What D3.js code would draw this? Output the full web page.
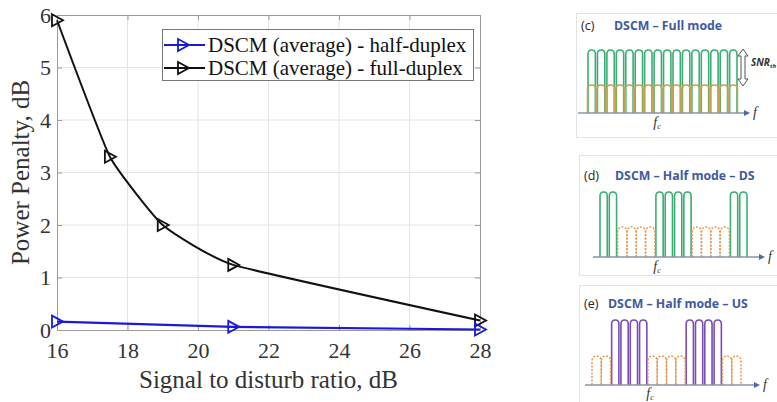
<!DOCTYPE html>
<html><head><meta charset="utf-8">
<script src="https://cdn.jsdelivr.net/npm/d3@7"></script>
<style>
html,body{margin:0;padding:0;background:#fff;}
svg{display:block;}
</style></head>
<body>
<svg id="c" width="777" height="402"></svg>
<script>
// ---------- data ----------
const xTicks = [16, 18, 20, 22, 24, 26, 28];
const yTicks = [0, 1, 2, 3, 4, 5, 6];
const fullX = [16, 17.5, 19, 21, 28];
const fullDuplex = [5.9, 3.3, 2.0, 1.24, 0.18];
const halfX = [16, 21, 28];
const halfDuplex = [0.16, 0.06, 0.01];
const seriesNames = ["DSCM (average) - half-duplex", "DSCM (average) - full-duplex"];
const xLabel = "Signal to disturb ratio, dB";
const yLabel = "Power Penalty, dB";
// spectrum panels: B = both (full), G = green DS, O = orange, P = purple US
const panelTags = ["(c)", "(d)", "(e)"];
const panelTitles = ["DSCM – Full mode", "DSCM – Half mode – DS", "DSCM – Half mode – US"];
const panelSlots = [
  ["B","B","B","B","B","B","B","B","B","B","B","B","B","B","B","B"],
  ["G","G","O","O","O","O","G","G","G","G","O","O","O","O","G","G"],
  ["O","O","P","P","P","P","O","O","O","O","P","P","P","P","O","O"]
];

const svg = d3.select("#c");
const serif = "'Liberation Serif','Times New Roman',serif";
const sans = "'Open Sans','Noto Sans',sans-serif";

// ---------- main chart ----------
const L = 57, R = 480, T = 15, B = 330;
const x = d3.scaleLinear().domain([16, 28]).range([L, R]);
const y = d3.scaleLinear().domain([0, 6]).range([B, T]);

const g = svg.append("g");
// grid
g.append("g").selectAll("line").data(xTicks.slice(1, -1)).join("line")
  .attr("x1", d => x(d)).attr("x2", d => x(d)).attr("y1", T).attr("y2", B)
  .attr("stroke", "#e4e4e4").attr("stroke-width", 1);
g.append("g").selectAll("line").data(yTicks.slice(1, -1)).join("line")
  .attr("y1", d => y(d)).attr("y2", d => y(d)).attr("x1", L).attr("x2", R)
  .attr("stroke", "#e4e4e4").attr("stroke-width", 1);

function styleAxis(sel) {
  sel.select(".domain").attr("stroke", "#9a9a9a");
  sel.selectAll(".tick line").attr("stroke", "#9a9a9a");
  sel.selectAll(".tick text").attr("fill", "#333").style("font-family", serif).style("font-size", "22px");
}
const fmt = d3.format("d");
g.append("g").attr("transform", `translate(0,${B})`)
  .call(d3.axisBottom(x).tickValues(xTicks).tickFormat(fmt).tickSize(-5).tickPadding(12).tickSizeOuter(0))
  .call(styleAxis);
g.append("g").attr("transform", `translate(${L},0)`)
  .call(d3.axisLeft(y).tickValues(yTicks).tickFormat(fmt).tickSize(-5).tickPadding(6).tickSizeOuter(0))
  .call(styleAxis);
g.append("g").attr("transform", `translate(0,${T})`)
  .call(d3.axisTop(x).tickValues(xTicks).tickSize(-5).tickSizeOuter(0).tickFormat(""))
  .call(styleAxis);
g.append("g").attr("transform", `translate(${R},0)`)
  .call(d3.axisRight(y).tickValues(yTicks).tickSize(-5).tickSizeOuter(0).tickFormat(""))
  .call(styleAxis);

// labels
g.append("text").attr("x", (L + R) / 2).attr("y", 388).attr("text-anchor", "middle")
  .style("font-family", serif).style("font-size", "25px").attr("fill", "#333").text(xLabel);
g.append("text").attr("transform", `translate(29,${(T + B) / 2}) rotate(-90)`).attr("text-anchor", "middle")
  .style("font-family", serif).style("font-size", "25px").attr("fill", "#333").text(yLabel);

// lines
const tri = "M-5,-6L6,0L-5,6Z";
const fullData = fullX.map((v, i) => [v, fullDuplex[i]]);
const halfData = halfX.map((v, i) => [v, halfDuplex[i]]);
g.append("path").datum(fullData)
  .attr("d", d3.line().x(d => x(d[0])).y(d => y(d[1])).curve(d3.curveCardinal.tension(0.6)))
  .attr("fill", "none").attr("stroke", "#111").attr("stroke-width", 2);
g.append("path").datum(halfData)
  .attr("d", d3.line().x(d => x(d[0])).y(d => y(d[1])))
  .attr("fill", "none").attr("stroke", "#1a1ad6").attr("stroke-width", 2.2);
g.append("g").selectAll("path").data(fullData).join("path")
  .attr("transform", d => `translate(${x(d[0])},${y(d[1])})`).attr("d", tri)
  .attr("fill", "none").attr("stroke", "#111").attr("stroke-width", 1.8);
g.append("g").selectAll("path").data(halfData).join("path")
  .attr("transform", d => `translate(${x(d[0])},${y(d[1])})`).attr("d", tri)
  .attr("fill", "none").attr("stroke", "#1a1ad6").attr("stroke-width", 1.8);

// legend
const lg = g.append("g");
lg.append("rect").attr("x", 162.5).attr("y", 29.5).attr("width", 311).attr("height", 51)
  .attr("fill", "#fff").attr("stroke", "#777").attr("stroke-width", 1);
const legCols = ["#1a1ad6", "#111"];
seriesNames.forEach((name, i) => {
  const yy = 45 + i * 23;
  lg.append("line").attr("x1", 164).attr("x2", 205).attr("y1", yy).attr("y2", yy)
    .attr("stroke", legCols[i]).attr("stroke-width", 2);
  lg.append("path").attr("transform", `translate(183,${yy})`).attr("d", tri)
    .attr("fill", "none").attr("stroke", legCols[i]).attr("stroke-width", 1.8);
  lg.append("text").attr("x", 208).attr("y", yy + 7).style("font-family", serif)
    .style("font-size", "21px").attr("fill", "#111").text(name);
});

// ---------- spectrum panels ----------
const panels = [
  {bx: 576, by: 13, bh: 124, tagY: 30, titleX: 614, s0: 588, s1: 737, top: 50, mid: 85, base: 113,
   ax0: 578, ax1: 750, fcX: 657, fcY: 127},
  {bx: 579, by: 155, bh: 120, tagY: 180, titleX: 615, s0: 600, s1: 747, top: 192, mid: 227, base: 257,
   ax0: 593, ax1: 765, fcX: 657, fcY: 271},
  {bx: 579, by: 285, bh: 130, tagY: 308, titleX: 608, s0: 593, s1: 740, top: 320, mid: 356, base: 385,
   ax0: 585, ax1: 760, fcX: 650, fcY: 398}
];
const colG = "#3aae74", colP = "#7a4cb8", colO = "#e59a55", colOc = "#c9a24e";

function arch(x0, x1, top, base) {
  const r = (x1 - x0) * 0.55;
  return `M${x0},${base}L${x0},${top + r}C${x0},${top - r / 3} ${x1},${top - r / 3} ${x1},${top + r}L${x1},${base}`;
}

panels.forEach((p, k) => {
  const pg = svg.append("g");
  pg.append("rect").attr("x", p.bx + 0.5).attr("y", p.by + 0.5).attr("width", 777 - p.bx + 10).attr("height", p.bh)
    .attr("fill", "#fff").attr("stroke", "#e2e2e2");
  pg.append("text").attr("x", p.bx + 5).attr("y", p.tagY).style("font-family", sans).style("font-size", "12.5px")
    .attr("fill", "#222").text(panelTags[k]);
  pg.append("text").attr("x", p.titleX).attr("y", p.tagY).style("font-family", sans).style("font-size", "12.3px")
    .style("font-weight", "bold").attr("fill", "#3d5aa0").text(panelTitles[k]);

  const slots = panelSlots[k];
  const band = d3.scaleBand().domain(d3.range(slots.length)).range([p.s0, p.s1]).paddingInner(0.22);
  const big = slots.map((s, i) => ({s, i})).filter(d => d.s !== "O");
  const small = slots.map((s, i) => ({s, i})).filter(d => d.s === "O" || d.s === "B");
  pg.append("g").selectAll("path").data(big).join("path")
    .attr("d", d => arch(band(d.i), band(d.i) + band.bandwidth(), p.top, p.base))
    .attr("fill", "none").attr("stroke", d => d.s === "P" ? colP : colG).attr("stroke-width", 1.6);
  pg.append("g").selectAll("path").data(small).join("path")
    .attr("d", d => d.s === "B"
      ? arch(band(d.i) - 0.5, band(d.i) + band.bandwidth() + 0.5, p.mid, p.base)
      : arch(band(d.i) - 1, band(d.i) + band.bandwidth() + 1, p.mid, p.base))
    .attr("fill", "none").attr("stroke", d => d.s === "B" ? colOc : colO)
    .attr("stroke-width", 1.5).attr("stroke-dasharray", d => d.s === "B" ? null : "2,1.5");

  // frequency axis
  pg.append("line").attr("x1", p.ax0).attr("x2", p.ax1 - 4).attr("y1", p.base).attr("y2", p.base)
    .attr("stroke", "#8a94a6").attr("stroke-width", 1.5);
  pg.append("path").attr("d", `M${p.ax1},${p.base}L${p.ax1 - 6},${p.base - 3}L${p.ax1 - 6},${p.base + 3}Z`)
    .attr("fill", "#4a6aa8");
  pg.append("text").attr("x", p.ax1 + 3).attr("y", p.base + 4).style("font-family", serif)
    .style("font-style", "italic").style("font-size", "14px").attr("fill", "#333").text("f");
  const fc = pg.append("text").attr("x", p.fcX).attr("y", p.fcY).attr("text-anchor", "middle")
    .style("font-family", serif).style("font-style", "italic").style("font-size", "14px").attr("fill", "#333");
  fc.append("tspan").text("f");
  fc.append("tspan").attr("dy", 2).style("font-size", "8px").text("c");

  if (k === 0) {
    // SNR double arrow
    const ax = 743, y0 = p.top - 1, y1 = p.mid + 1;
    pg.append("path")
      .attr("d", `M${ax},${y0}L${ax + 5},${y0 + 7}L${ax + 2},${y0 + 7}L${ax + 2},${y1 - 7}L${ax + 5},${y1 - 7}L${ax},${y1}L${ax - 5},${y1 - 7}L${ax - 2},${y1 - 7}L${ax - 2},${y0 + 7}L${ax - 5},${y0 + 7}Z`)
      .attr("fill", "#fff").attr("stroke", "#555").attr("stroke-width", 1);
    const st = pg.append("text").attr("x", 751).attr("y", 66).style("font-family", sans)
      .style("font-style", "italic").style("font-size", "10px").style("font-weight", "bold").attr("fill", "#333");
    st.append("tspan").text("SNR");
    st.append("tspan").attr("dy", 2).style("font-size", "6px").text("th");
  }
});
</script>
</body></html>
